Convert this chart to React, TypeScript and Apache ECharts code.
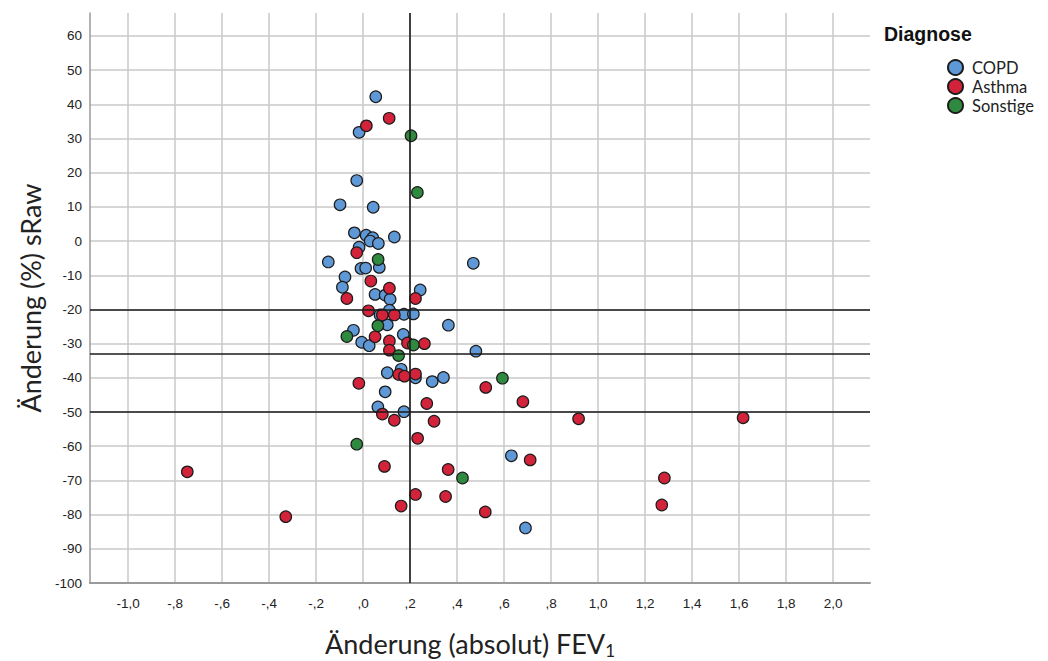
import React, { useEffect, useRef } from 'react';
import * as echarts from 'echarts';

const categories = ['COPD', 'Asthma', 'Sonstige'];
const colors = ['#5F98D6', '#D2233A', '#2F8A3F'];

const copd: [number, number][] = [
  [0.054, 42.2], [-0.017, 31.8], [-0.027, 17.7], [-0.098, 10.6], [0.043, 9.9],
  [-0.037, 2.4], [0.013, 1.7], [0.041, 1.0], [0.03, 0.0], [0.065, -0.7],
  [0.133, 1.2], [-0.017, -1.8], [-0.148, -6.1], [-0.009, -8.0], [0.011, -7.9],
  [0.069, -7.7], [0.469, -6.5], [-0.077, -10.5], [-0.088, -13.5], [0.051, -15.6],
  [0.094, -15.8], [0.115, -17.0], [0.243, -14.3], [0.072, -21.6], [0.112, -20.2],
  [0.174, -21.4], [0.214, -21.3], [0.363, -24.6], [0.103, -24.5], [-0.041, -26.1],
  [0.171, -27.3], [-0.006, -29.6], [0.026, -30.6], [0.48, -32.2], [0.103, -38.5],
  [0.162, -37.5], [0.223, -40.0], [0.294, -41.1], [0.342, -39.9], [0.094, -44.1],
  [0.063, -48.5], [0.174, -49.9], [0.631, -62.8], [0.691, -83.9],
];

const asthma: [number, number][] = [
  [0.111, 35.9], [0.014, 33.7], [-0.027, -3.4], [0.033, -11.7], [0.112, -13.8],
  [-0.069, -16.8], [0.223, -16.8], [0.023, -20.4], [0.082, -21.6], [0.133, -21.6],
  [0.051, -28.0], [0.112, -29.2], [0.112, -31.9], [0.189, -29.8], [0.261, -30.0],
  [0.152, -39.0], [0.176, -39.5], [0.223, -38.9], [-0.018, -41.6], [0.522, -42.8],
  [0.68, -47.0], [0.271, -47.5], [0.082, -50.6], [0.133, -52.4], [0.302, -52.7],
  [0.917, -52.0], [1.617, -51.7], [0.232, -57.7], [0.711, -64.0], [-0.748, -67.5],
  [0.091, -65.9], [0.362, -66.8], [1.282, -69.3], [0.223, -74.1], [0.351, -74.7],
  [0.162, -77.5], [0.52, -79.2], [1.271, -77.2], [-0.329, -80.6],
];

const sonstige: [number, number][] = [
  [0.204, 30.8], [0.231, 14.2], [0.064, -5.4], [0.063, -24.8], [-0.069, -27.9],
  [0.214, -30.4], [0.151, -33.5], [0.593, -40.1], [-0.027, -59.4], [0.423, -69.3],
];

const xTicks = [-1.0, -0.8, -0.6, -0.4, -0.2, 0.0, 0.2, 0.4, 0.6, 0.8, 1.0, 1.2, 1.4, 1.6, 1.8, 2.0];
const yTicks = [-100, -90, -80, -70, -60, -50, -40, -30, -20, -10, 0, 10, 20, 30, 40, 50, 60];
const refLinesY = [-20, -33, -50];
const refLineX = 0.2;

const xMin = -1.162;
const xMax = 2.157;
const yMin = -100;
const yMax = 66.7;

const fmtX = (v: number) => {
  const s = Math.abs(v).toFixed(1).replace('.', ',');
  const t = s.startsWith('0') ? s.slice(1) : s;
  return (v < -1e-9 ? '-' : '') + t;
};

const tickFont = '"Liberation Sans Narrow", "Liberation Sans", Arial, sans-serif';
const titleFont = 'Lato, "Open Sans", sans-serif';

export default function App() {
  const ref = useRef<HTMLDivElement>(null);
  useEffect(() => {
    if (!ref.current) return;
    const chart = echarts.init(ref.current, null, { renderer: 'svg' });
    const seriesData = [copd, asthma, sonstige];
    chart.setOption({
      animation: false,
      backgroundColor: '#ffffff',
      grid: { left: 90, right: 178, top: 13, bottom: 78, containLabel: false, outerBoundsMode: 'none' },
      xAxis: {
        type: 'value',
        min: xMin,
        max: xMax,
        name: '{a|Änderung (absolut) FEV}{s|1}',
        nameLocation: 'middle',
        nameGap: 45,
        nameTextStyle: {
          padding: [0, 20, 0, 0],
          rich: {
            a: { fontFamily: titleFont, fontSize: 27, color: '#222' },
            s: { fontFamily: titleFont, fontSize: 17, color: '#222', padding: [14, 0, 0, 0] },
          },
        },
        axisLine: { show: true, onZero: false, lineStyle: { color: '#9a9a9a', width: 2 } },
        axisTick: { show: false, customValues: xTicks },
        axisLabel: {
          customValues: xTicks,
          formatter: (v: number) => fmtX(v),
          fontFamily: tickFont,
          fontSize: 13.5,
          color: '#222',
          margin: 13,
        },
        splitLine: { show: true, lineStyle: { color: '#c9c9c9', width: 1.5 } },
      },
      yAxis: {
        type: 'value',
        min: yMin,
        max: yMax,
        name: 'Änderung (%) sRaw',
        nameLocation: 'middle',
        nameGap: 46,
        nameTextStyle: { fontFamily: titleFont, fontSize: 27, color: '#222' },
        axisLine: { show: true, onZero: false, lineStyle: { color: '#9a9a9a', width: 1.5 } },
        axisTick: { show: false, customValues: yTicks },
        axisLabel: {
          customValues: yTicks,
          formatter: (v: number) => String(v),
          fontFamily: tickFont,
          fontSize: 13.5,
          color: '#222',
          margin: 8,
        },
        splitLine: { show: true, lineStyle: { color: '#c9c9c9', width: 1.5 } },
      },
      legend: {
        orient: 'vertical',
        left: 942,
        top: 53,
        itemWidth: 15,
        itemHeight: 15,
        itemGap: 0,
        icon: 'circle',
        data: categories,
        textStyle: { fontFamily: titleFont, fontSize: 16.5, lineHeight: 19, color: '#222', padding: [0, 0, 0, 4] },
      },
      graphic: [
        {
          type: 'text',
          left: 884,
          top: 24,
          style: {
            text: 'Diagnose',
            font: 'bold 19.5px "Liberation Sans", Arial, sans-serif',
            fill: '#111',
          },
        },
      ],
      series: [
        {
          type: 'line',
          data: [],
          z: 1,
          silent: true,
          markLine: {
            silent: true,
            symbol: 'none',
            label: { show: false },
            lineStyle: { color: '#1a1a1a', width: 1.6, type: 'solid' },
            data: [...refLinesY.map((v) => ({ yAxis: v })), { xAxis: refLineX }],
          },
        },
        ...categories.map((name, i) => ({
          name,
          type: 'scatter',
          z: 3,
          symbol: 'circle',
          symbolSize: 11.5,
          data: seriesData[i],
          itemStyle: { color: colors[i], borderColor: '#1c1c1c', borderWidth: 1.2, opacity: 1 },
        })),
      ],
    });
    return () => chart.dispose();
  }, []);
  return <div ref={ref} style={{ width: 1048, height: 661, position: 'absolute', left: 0, top: 0 }} />;
}
